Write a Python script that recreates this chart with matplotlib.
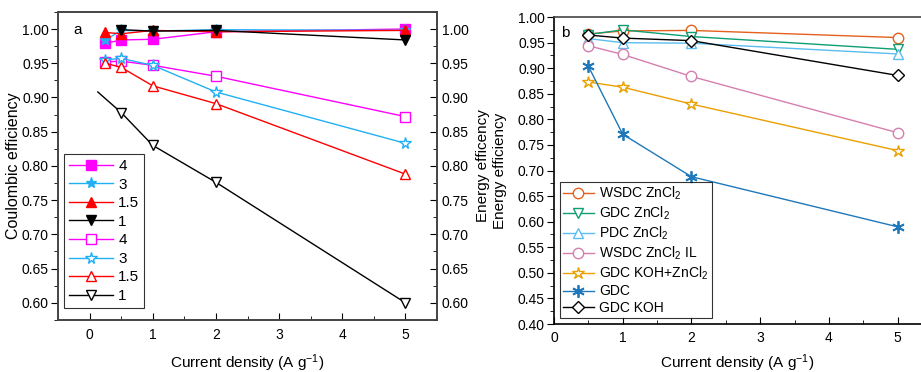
import matplotlib
matplotlib.use("Agg")
import matplotlib.pyplot as plt
from matplotlib.ticker import MultipleLocator, FormatStrFormatter

plt.rcParams['font.family'] = ['Liberation Sans', 'DejaVu Sans']
plt.rcParams['mathtext.fontset'] = 'custom'
plt.rcParams['mathtext.rm'] = 'Liberation Sans'
plt.rcParams['mathtext.it'] = 'Liberation Sans:italic'
plt.rcParams['mathtext.default'] = 'regular'

# ---------------- Panel a data ----------------
xa = [0.25, 0.5, 1, 2, 5]
xa_black = [0.5, 1, 2, 5]
xa_black_open = [0.13, 0.5, 1, 2, 5]
ce_4 = [0.979, 0.984, 0.985, 0.996, 1.000]
ce_3 = [0.984, 0.998, 0.997, 0.999, 0.998]
ce_15 = [0.995, 0.993, 0.998, 0.996, 0.998]
ce_1 = [0.999, 0.997, 0.998, 0.984]
ee_4 = [0.952, 0.953, 0.947, 0.931, 0.872]
ee_3 = [0.955, 0.957, 0.947, 0.908, 0.833]
ee_15 = [0.950, 0.944, 0.917, 0.891, 0.788]
ee_1 = [0.908, 0.878, 0.830, 0.776, 0.600]
labels_a = ['4', '3', '1.5', '1', '4', '3', '1.5', '1']

# ---------------- Panel b data ----------------
xb = [0.5, 1, 2, 5]
b_names = ['WSDC ZnCl$_2$', 'GDC ZnCl$_2$', 'PDC ZnCl$_2$', 'WSDC ZnCl$_2$ IL',
           'GDC KOH+ZnCl$_2$', 'GDC', 'GDC KOH']
b_values = [
    [0.967, 0.973, 0.974, 0.960],
    [0.966, 0.975, 0.962, 0.937],
    [0.958, 0.950, 0.949, 0.928],
    [0.944, 0.927, 0.884, 0.774],
    [0.873, 0.863, 0.830, 0.739],
    [0.904, 0.771, 0.688, 0.590],
    [0.965, 0.959, 0.954, 0.886],
]
b_colors = ['#E5601C', '#0E9E73', '#5BBDF0', '#D57FAF', '#E9A000', '#1F78B9', '#000000']
b_markers = ['o', 'v', '^', 'o', '*', (6, 2, 0), 'D']

TICK = 10
fig = plt.figure(figsize=(9.21, 3.72), dpi=100)

# ---------- Panel a ----------
axa = fig.add_axes([0.063, 0.140, 0.4115, 0.828])
lw = 1.0
filled = [(ce_4, '#FF00FF', 's', xa), (ce_3, '#22B0F5', '*', xa),
          (ce_15, '#FF0000', '^', xa), (ce_1, '#000000', 'v', xa_black)]
openm = [(ee_4, '#FF00FF', 's', xa), (ee_3, '#22B0F5', '*', xa),
         (ee_15, '#FF0000', '^', xa), (ee_1, '#000000', 'v', xa_black_open)]
handles = []
i = 0
for vals, c, m, xs in filled:
    ms = 8 if m == '*' else 6.5
    h, = axa.plot(xs, vals, color=c, marker=m, ms=ms, lw=lw, mfc=c, mec=c,
                  label=labels_a[i])
    handles.append(h)
    i += 1
for vals, c, m, xs in openm:
    ms = 8.5 if m == '*' else 7
    me = [1, 2, 3, 4] if xs is xa_black_open else None
    h, = axa.plot(xs, vals, color=c, marker=m, ms=ms, lw=lw, mfc='white', mec=c,
                  mew=1.0, label=labels_a[i], markevery=me)
    handles.append(h)
    i += 1

axa.set_xlim(-0.5, 5.5)
axa.set_ylim(0.575, 1.025)
axa.xaxis.set_major_locator(MultipleLocator(1))
axa.xaxis.set_minor_locator(MultipleLocator(0.5))
axa.yaxis.set_major_locator(MultipleLocator(0.05))
axa.yaxis.set_minor_locator(MultipleLocator(0.025))
axa.tick_params(axis='x', which='both', direction='in', labelsize=TICK, pad=6)
axa.tick_params(axis='y', which='both', direction='out', labelsize=TICK, pad=1.5)
axa.tick_params(which='major', length=5)
axa.tick_params(which='minor', length=3)
axa.yaxis.set_major_formatter(FormatStrFormatter('%.2f'))
axa.set_xlabel('Current density (A g$^{-1}$)', fontsize=11, labelpad=7)
axa.set_ylabel('Coulombic efficiency', fontsize=11.5, labelpad=1)
for s in axa.spines.values():
    s.set_color('#444444')
    s.set_linewidth(1.2)
axa.text(0.04, 0.963, 'a', transform=axa.transAxes, fontsize=11, va='top')

axr = axa.twinx()
axr.set_ylim(0.575, 1.025)
axr.yaxis.set_major_locator(MultipleLocator(0.05))
axr.yaxis.set_minor_locator(MultipleLocator(0.025))
axr.yaxis.set_major_formatter(FormatStrFormatter('%.2f'))
axr.tick_params(axis='y', which='both', direction='in', labelsize=TICK)
axr.tick_params(which='major', length=5)
axr.tick_params(which='minor', length=3)
axr.set_ylabel('Energy efficency', fontsize=11, labelpad=5)
for s in axr.spines.values():
    s.set_color('#444444')
    s.set_linewidth(1.2)

leg = axa.legend(handles=handles, loc='lower left', bbox_to_anchor=(0.0, 0.02),
                 fontsize=11, frameon=True, fancybox=False, edgecolor='#000000',
                 handlelength=2.9, labelspacing=0.3, borderpad=0.3,
                 handletextpad=0.35, borderaxespad=0.4)
leg.get_frame().set_linewidth(0.8)

# ---------- Panel b ----------
axb = fig.add_axes([0.6015, 0.129, 0.3985, 0.825])
hb = []
for name, vals, c, m in zip(b_names, b_values, b_colors, b_markers):
    if m == '*':
        ms = 9
    elif m == 'D':
        ms = 6
    elif isinstance(m, tuple):
        ms = 9
    else:
        ms = 7.5
    if isinstance(m, tuple):
        h, = axb.plot(xb, vals, color=c, marker=m, ms=ms, lw=1.0, mec=c, mew=1.3,
                      label=name)
    else:
        h, = axb.plot(xb, vals, color=c, marker=m, ms=ms, lw=1.0, mfc='white',
                      mec=c, mew=1.0, label=name)
    hb.append(h)

axb.set_xlim(0, 5.34)
axb.set_ylim(0.40, 1.00)
axb.xaxis.set_major_locator(MultipleLocator(1))
axb.xaxis.set_minor_locator(MultipleLocator(0.5))
axb.yaxis.set_major_locator(MultipleLocator(0.05))
axb.yaxis.set_minor_locator(MultipleLocator(0.025))
axb.yaxis.set_major_formatter(FormatStrFormatter('%.2f'))
axb.tick_params(axis='x', which='both', direction='in', labelsize=TICK, pad=5)
axb.tick_params(axis='y', which='both', direction='out', labelsize=TICK, pad=1.5)
axb.tick_params(which='major', length=5)
axb.tick_params(which='minor', length=3)
axb.set_xlabel('Current density (A g$^{-1}$)', fontsize=11, labelpad=5)
axb.set_ylabel('Energy efficiency', fontsize=11, labelpad=8)
axb.spines['right'].set_visible(False)
for s in axb.spines.values():
    s.set_linewidth(1.2)
axb.spines['top'].set_color('#444444')
axb.text(0.02, 0.97, 'b', transform=axb.transAxes, fontsize=11, va='top')

legb = axb.legend(handles=hb, loc='lower left', bbox_to_anchor=(0.0, 0.0),
                  fontsize=10, frameon=True, fancybox=False, edgecolor='#000000',
                  handlelength=2.2, labelspacing=0.18, borderpad=0.25,
                  handletextpad=0.4, borderaxespad=0.4)
legb.get_frame().set_linewidth(0.8)

fig.savefig('out.png', dpi=100)
